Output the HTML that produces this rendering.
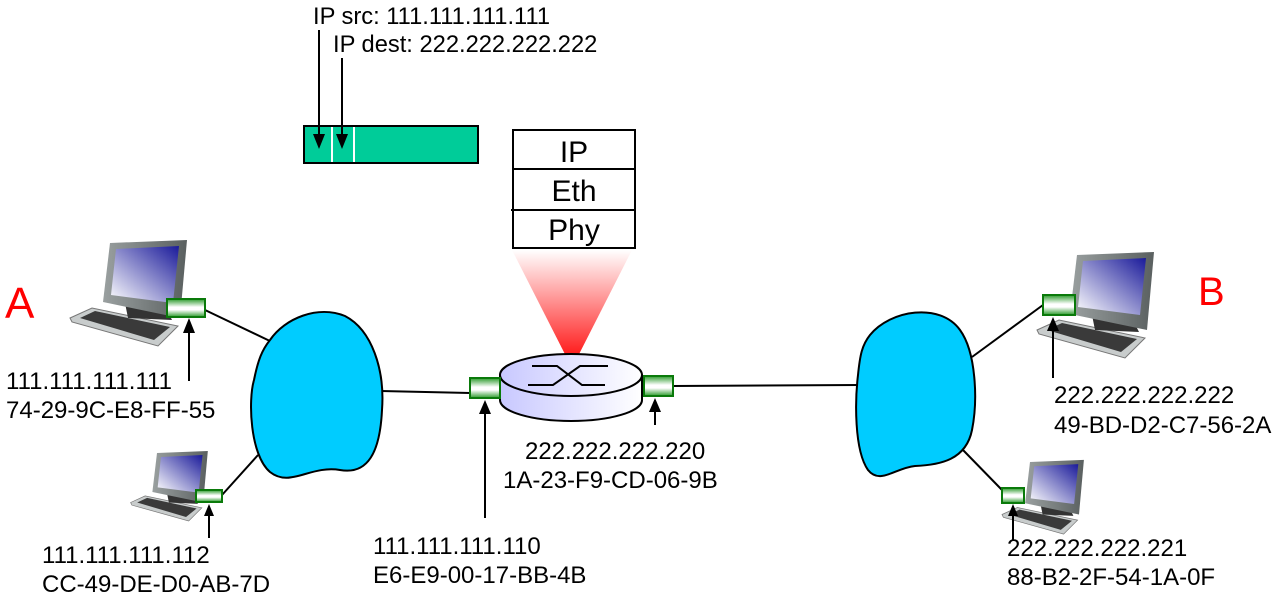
<!DOCTYPE html>
<html><head><meta charset="utf-8"><style>
html,body{margin:0;padding:0;background:#fff;}
svg{display:block;font-family:"Liberation Sans",sans-serif;}
</style></head><body>
<svg width="1276" height="595" viewBox="0 0 1276 595" xmlns="http://www.w3.org/2000/svg">
<defs>
<linearGradient id="scr" x1="1" y1="0" x2="0" y2="1"><stop offset="0" stop-color="#1a1a9a"/><stop offset="1" stop-color="#ffffff"/></linearGradient>
<linearGradient id="frm" x1="0" y1="0" x2="1" y2="0"><stop offset="0" stop-color="#9aa0a0"/><stop offset="1" stop-color="#5a6060"/></linearGradient>
<linearGradient id="nic" x1="0" y1="0" x2="0" y2="1"><stop offset="0" stop-color="#2a9a2a"/><stop offset="0.45" stop-color="#ffffff"/><stop offset="0.6" stop-color="#ffffff"/><stop offset="1" stop-color="#2a9a2a"/></linearGradient>
<linearGradient id="rt" x1="0" y1="0" x2="1" y2="0"><stop offset="0" stop-color="#c8c8ff"/><stop offset="1" stop-color="#ffffff"/></linearGradient>
<linearGradient id="cone" x1="0" y1="0" x2="0" y2="1"><stop offset="0" stop-color="#ffffff"/><stop offset="1" stop-color="#ff0000"/></linearGradient>
<g id="pc">
<polygon points="70,318 92,308 178,326 158,346 72,322" fill="#c8cccc" stroke="#777" stroke-width="1"/>
<polygon points="80,318 95,311 170,327 154,340" fill="#3a3a3a"/>
<polygon points="125,303 165,306 172,320 128,318" fill="#333"/>
<polygon points="110,243 187,240 180,318 103,302" fill="url(#frm)"/>
<polygon points="116,249 179,246 173,303 111,295" fill="url(#scr)"/>
</g>
</defs>

<rect x="304" y="126" width="174" height="37" fill="#00cc99" stroke="#000" stroke-width="2"/>
<line x1="332" y1="127" x2="332" y2="162" stroke="#fff" stroke-width="2"/>
<line x1="354" y1="127" x2="354" y2="162" stroke="#fff" stroke-width="2"/>
<line x1="319" y1="30" x2="319" y2="136" stroke="#000" stroke-width="2"/>
<line x1="342" y1="58" x2="342" y2="136" stroke="#000" stroke-width="2"/>
<polygon points="313,134 325,134 319,149" fill="#000"/>
<polygon points="336,134 348,134 342,149" fill="#000"/>
<text x="313" y="24" font-size="23.7">IP src: 111.111.111.111</text>
<text x="333" y="52" font-size="23.7">IP dest: 222.222.222.222</text>

<polygon points="512,250 632,250 572,368" fill="url(#cone)"/>
<rect x="513" y="130" width="122" height="118" fill="#fff" stroke="#000" stroke-width="2"/>
<line x1="513" y1="169" x2="635" y2="169" stroke="#000" stroke-width="2"/>
<line x1="511" y1="210" x2="635" y2="210" stroke="#000" stroke-width="2"/>
<text x="574" y="162" font-size="30" text-anchor="middle">IP</text>
<text x="574" y="201" font-size="30" text-anchor="middle">Eth</text>
<text x="574" y="240" font-size="30" text-anchor="middle">Phy</text>

<g stroke="#000" stroke-width="2">
<line x1="205" y1="310" x2="272" y2="342"/>
<line x1="222" y1="495" x2="258" y2="455"/>
<line x1="380" y1="391" x2="470" y2="393"/>
<line x1="673" y1="386" x2="860" y2="385"/>
<line x1="972" y1="357" x2="1043" y2="305"/>
<line x1="963" y1="450" x2="1002" y2="490"/>
</g>

<path d="M270,340 C285,318 318,305 345,316 C372,330 385,370 382,410 C380,452 368,475 340,470 C310,465 290,488 270,472 C250,455 248,400 254,380 C258,360 262,350 270,340 Z" fill="#00ccff" stroke="#000" stroke-width="2"/>
<path d="M870,335 C890,310 940,302 960,330 C976,352 978,400 972,430 C966,460 940,465 915,466 C895,468 880,485 868,470 C854,450 855,400 858,375 C860,355 862,345 870,335 Z" fill="#00ccff" stroke="#000" stroke-width="2"/>

<path d="M500,375 L500,400 A71,21 0 0 0 642,400 L642,375 Z" fill="url(#rt)" stroke="#000" stroke-width="2"/>
<ellipse cx="571" cy="375" rx="71" ry="21" fill="url(#rt)" stroke="#000" stroke-width="2"/>
<g stroke="#000" stroke-width="2" fill="none">
<polyline points="532,366 557,366 582,385 605,385"/>
<polyline points="528,385 553,385 580,366 608,366"/>
</g>

<use href="#pc"/>
<use href="#pc" transform="translate(967,12)"/>
<use href="#pc" transform="translate(157,453) scale(0.66) translate(-110,-243)"/>
<use href="#pc" transform="translate(1030,462) scale(0.7) translate(-110,-243)"/>

<g fill="url(#nic)" stroke="#0a7a0a" stroke-width="2">
<rect x="167" y="299" width="38" height="18"/>
<rect x="196" y="490" width="26" height="12"/>
<rect x="470" y="378" width="30" height="20"/>
<rect x="644" y="376" width="29" height="20"/>
<rect x="1043" y="295" width="32" height="20"/>
<rect x="1002" y="488" width="22" height="15"/>
</g>

<g stroke="#000" stroke-width="2">
<line x1="189" y1="381" x2="189" y2="330"/>
<line x1="209" y1="538" x2="209" y2="514"/>
<line x1="485" y1="518" x2="485" y2="410"/>
<line x1="655" y1="425" x2="655" y2="408"/>
<line x1="1053" y1="378" x2="1053" y2="328"/>
<line x1="1013" y1="540" x2="1013" y2="514"/>
</g>
<g fill="#000">
<polygon points="183,333 195,333 189,318"/>
<polygon points="204,516 214,516 209,504"/>
<polygon points="479,414 491,414 485,400"/>
<polygon points="649,412 661,412 655,398"/>
<polygon points="1047,331 1059,331 1053,317"/>
<polygon points="1008,516 1018,516 1013,504"/>
</g>

<g font-size="24">
<text x="6" y="389">111.111.111.111</text>
<text x="6" y="418">74-29-9C-E8-FF-55</text>
<text x="42" y="563">111.111.111.112</text>
<text x="42" y="592">CC-49-DE-D0-AB-7D</text>
<text x="373" y="554">111.111.111.110</text>
<text x="373" y="583">E6-E9-00-17-BB-4B</text>
<text x="525" y="459">222.222.222.220</text>
<text x="503" y="488">1A-23-F9-CD-06-9B</text>
<text x="1054" y="403">222.222.222.222</text>
<text x="1054" y="433">49-BD-D2-C7-56-2A</text>
<text x="1007" y="556">222.222.222.221</text>
<text x="1007" y="585">88-B2-2F-54-1A-0F</text>
</g>
<text x="5" y="318" font-size="44" fill="#ff0000">A</text>
<text x="1198" y="305" font-size="40" fill="#ff0000">B</text>
</svg>
</body></html>
